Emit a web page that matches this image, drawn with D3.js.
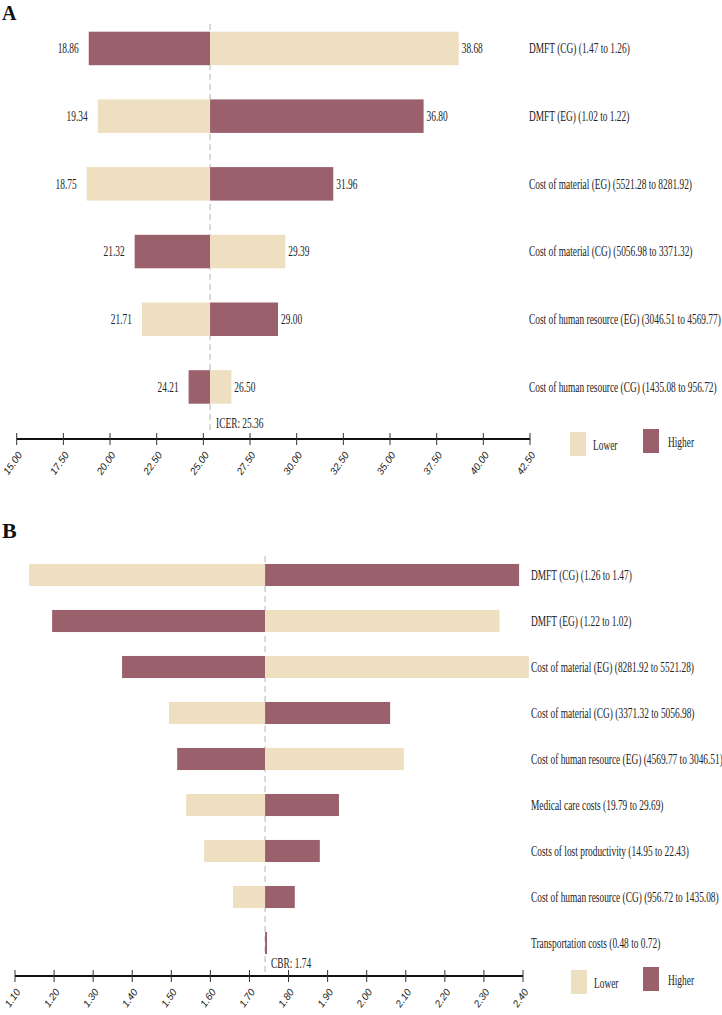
<!DOCTYPE html>
<html><head><meta charset="utf-8">
<script src="https://cdn.jsdelivr.net/npm/d3@7"></script>
<style>body{margin:0;background:#fff}svg{display:block}</style>
</head><body>
<script>
// ---------- DATA ----------
const labelsA = ["DMFT (CG) (1.47 to 1.26)","DMFT (EG) (1.02 to 1.22)","Cost of material (EG) (5521.28 to 8281.92)","Cost of material (CG) (5056.98 to 3371.32)","Cost of human resource (EG) (3046.51 to 4569.77)","Cost of human resource (CG) (1435.08 to 956.72)"];
const leftA  = [18.86, 19.34, 18.75, 21.32, 21.71, 24.21];
const rightA = [38.68, 36.80, 31.96, 29.39, 29.00, 26.50];
const leftKindA = ["Higher","Lower","Lower","Higher","Lower","Higher"];
const baseA = 25.36;
const ticksA = ["15.00","17.50","20.00","22.50","25.00","27.50","30.00","32.50","35.00","37.50","40.00","42.50"];

const labelsB = ["DMFT (CG) (1.26 to 1.47)","DMFT (EG) (1.22 to 1.02)","Cost of material (EG) (8281.92 to 5521.28)","Cost of material (CG) (3371.32 to 5056.98)","Cost of human resource (EG) (4569.77 to 3046.51)","Medical care costs (19.79 to 29.69)","Costs of lost productivity (14.95 to 22.43)","Cost of human resource (CG) (956.72 to 1435.08)","Transportation costs (0.48 to 0.72)"];
const leftB  = [1.136, 1.195, 1.374, 1.494, 1.515, 1.538, 1.584, 1.658, 1.74];
const rightB = [2.39, 2.34, 2.415, 2.06, 2.095, 1.929, 1.88, 1.816, 1.745];
const leftKindB = ["Lower","Higher","Higher","Lower","Higher","Lower","Lower","Lower","Lower"];
const baseB = 1.74;
const ticksB = ["1.10","1.20","1.30","1.40","1.50","1.60","1.70","1.80","1.90","2.00","2.10","2.20","2.30","2.40"];

const legendKeys = ["Lower","Higher"];
const colors = {Lower:"#EFDFC1", Higher:"#9A616C"};

// ---------- DRAW ----------
const W=722,H=1015;
const svg=d3.select("body").append("svg").attr("width",W).attr("height",H);
const SERIF="'Liberation Serif','Times New Roman',serif";
const FS=14, SX=0.67;

function ctext(g,x,y,str,anchor){
  return g.append("text").attr("transform",`translate(${x},${y}) scale(${SX},1)`)
    .attr("text-anchor",anchor||"start").attr("dominant-baseline","central")
    .attr("font-family",SERIF).attr("font-size",FS).attr("fill","#222").text(str);
}

function panel(cfg){
  const g=svg.append("g");
  const tickVals=cfg.ticks.map(Number);
  const x=d3.scaleLinear().domain([tickVals[0],tickVals[tickVals.length-1]]).range(cfg.xr);
  const y=d3.scaleBand().domain(cfg.labels).range(cfg.yr).paddingInner(cfg.pad).paddingOuter(cfg.pad/2);
  const cx=x(cfg.base);
  g.append("text").attr("x",2).attr("y",cfg.letterY).attr("font-family",SERIF).attr("font-weight","bold")
   .attr("font-size",cfg.letterSize).attr("fill","#111").text(cfg.letter);
  g.append("line").attr("x1",cx).attr("x2",cx).attr("y1",cfg.lineY[0]).attr("y2",cfg.lineY[1])
   .attr("stroke","#c4c4c4").attr("stroke-width",1.3).attr("stroke-dasharray","6,4");
  const rows=cfg.labels.map((l,i)=>({l,lv:cfg.left[i],rv:cfg.right[i],lk:cfg.leftKind[i]}));
  rows.forEach(r=>{
    const rk=r.lk==="Lower"?"Higher":"Lower";
    g.append("rect").attr("x",x(r.lv)).attr("y",y(r.l)).attr("width",Math.max(0,cx-x(r.lv))).attr("height",y.bandwidth())
     .attr("fill",colors[r.lk]);
    g.append("rect").attr("x",cx).attr("y",y(r.l)).attr("width",Math.max(0,x(r.rv)-cx)).attr("height",y.bandwidth())
     .attr("fill",colors[rk]);
    const yc=y(r.l)+y.bandwidth()/2;
    if(cfg.valueLabels){
      ctext(g,x(r.lv)-10,yc,r.lv.toFixed(2),"end");
      ctext(g,x(r.rv)+3,yc,r.rv.toFixed(2),"start");
    }
    ctext(g,cfg.labelX,yc,r.l,"start");
  });
  ctext(g,cx+6,cfg.annY,cfg.ann,"start");
  const ax=g.append("g").attr("transform",`translate(0,${cfg.axisY})`);
  ax.append("line").attr("x1",cfg.xr[0]).attr("x2",cfg.xr[1]).attr("stroke","#111").attr("stroke-width",2);
  cfg.ticks.forEach(t=>{
    const tx=x(+t);
    ax.append("line").attr("x1",tx).attr("x2",tx).attr("y1",-6).attr("y2",6).attr("stroke","#333").attr("stroke-width",1);
    ax.append("text").attr("transform",`translate(${tx+6},${16}) rotate(-55)`).attr("text-anchor","end")
      .attr("font-family","'Liberation Sans',Arial,sans-serif").attr("font-style","italic").attr("font-size",10)
      .attr("fill","#222").text(t);
  });
  const lg=g.append("g");
  legendKeys.forEach((k,i)=>{
    const lx=cfg.legX[i], ly=cfg.legY+(i?-3:0);
    lg.append("rect").attr("x",lx).attr("y",ly).attr("width",16).attr("height",24).attr("fill",colors[k]);
    ctext(lg,lx+(i?25:23),ly+13,k,"start");
  });
}

panel({letter:"A",letterY:20,letterSize:20,labels:labelsA,left:leftA,right:rightA,leftKind:leftKindA,base:baseA,ticks:ticksA,
  xr:[16.7,530],yr:[14.6,420.8],pad:0.505,labelX:529,valueLabels:true,ann:"ICER: 25.36",annY:423,
  lineY:[24,433],axisY:439,legX:[570,643],legY:432});
panel({letter:"B",letterY:538,letterSize:22,labels:labelsB,left:leftB,right:rightB,leftKind:leftKindB,base:baseB,ticks:ticksB,
  xr:[15,523],yr:[552,966],pad:0.52,labelX:531,valueLabels:false,ann:"CBR: 1.74",annY:963,
  lineY:[556,972],axisY:976,legX:[571,643],legY:970});
</script>
</body></html>
